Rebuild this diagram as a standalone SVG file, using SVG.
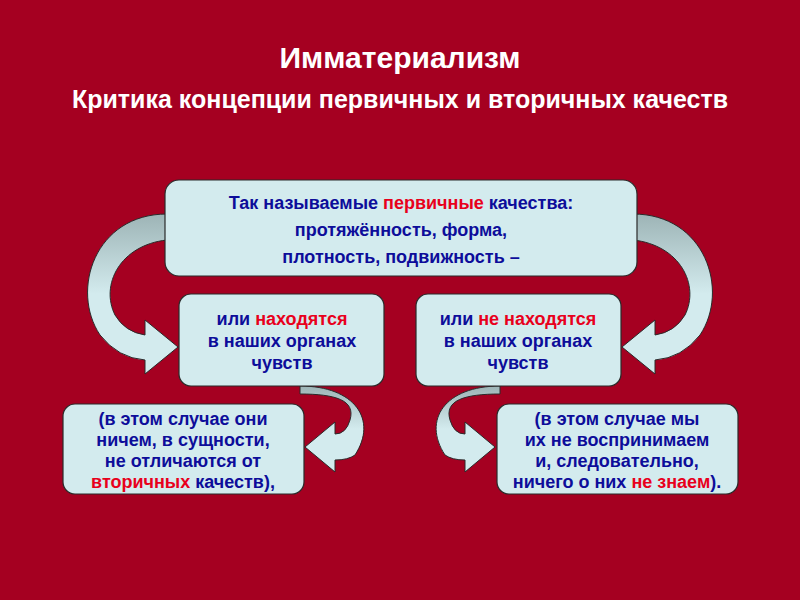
<svg xmlns="http://www.w3.org/2000/svg" width="800" height="600" viewBox="0 0 800 600">
<style>
.bx{fill:#d3ebee;stroke:#2a2a2a;stroke-width:1.2}
.ar{fill:url(#g);stroke:#2a2a2a;stroke-width:1}
.t{font-family:"Liberation Sans",Arial,sans-serif;font-weight:bold;font-size:18px;fill:#0d0d9a;text-anchor:middle}
.r{fill:#e8001c}
.h{font-family:"Liberation Sans",Arial,sans-serif;font-weight:bold;fill:#fff;text-anchor:middle}
</style>
<defs>
<linearGradient id="g" x1="0" y1="0" x2="0" y2="1"><stop offset="0" stop-color="#9db4b6"/><stop offset="0.5" stop-color="#d3ebee"/><stop offset="1" stop-color="#d3ebee"/></linearGradient>
</defs>
<rect width="800" height="600" fill="#a50021"/>
<text class="h" x="400" y="68" font-size="30">Имматериализм</text>
<text class="h" x="400" y="108" font-size="25">Критика концепции первичных и вторичных качеств</text>
<g id="connectors">
<path class="ar" d="M167,214 C95,214 70,290 100,335 Q118,358 145,360 L145,374 L178,347 L145,320 L145,335 Q125,332 115,315 C100,285 120,245 167,240 Z"/>
<path class="ar" d="M633,214 C705,214 730,290 700,335 Q682,358 655,360 L655,374 L622,347 L655,320 L655,335 Q675,332 685,315 C700,285 680,245 633,240 Z"/>
<path class="ar" d="M300,386 C355,386 378,420 355,455 Q348,460 335,460 L335,472 L305,447 L335,422 L335,434 Q346,434 350,420 C356,400 335,394 300,394 Z"/>
<path class="ar" d="M500,386 C445,386 422,420 445,455 Q452,460 465,460 L465,472 L495,447 L465,422 L465,434 Q454,434 450,420 C444,400 465,394 500,394 Z"/>
</g>
<g id="top"><rect class="bx" x="165" y="180" width="472" height="96" rx="14"/>
<text class="t" x="401" y="209">Так называемые <tspan class="r">первичные</tspan> качества:</text>
<text class="t" x="401" y="236">протяжённость, форма,</text>
<text class="t" x="401" y="263">плотность, подвижность –</text></g>
<g id="midL"><rect class="bx" x="179" y="294" width="205" height="92" rx="12"/>
<text class="t" x="282" y="325">или <tspan class="r">находятся</tspan></text>
<text class="t" x="282" y="347">в наших органах</text>
<text class="t" x="282" y="369">чувств</text></g>
<g id="midR"><rect class="bx" x="416" y="294" width="205" height="92" rx="12"/>
<text class="t" x="518" y="325">или <tspan class="r">не находятся</tspan></text>
<text class="t" x="518" y="347">в наших органах</text>
<text class="t" x="518" y="369">чувств</text></g>
<g id="botL"><rect class="bx" x="63" y="404" width="241" height="90" rx="12"/>
<text class="t" x="183" y="425">(в этом случае они</text>
<text class="t" x="183" y="446">ничем, в сущности,</text>
<text class="t" x="183" y="467">не отличаются от</text>
<text class="t" x="183" y="488"><tspan class="r">вторичных</tspan> качеств),</text></g>
<g id="botR"><rect class="bx" x="497" y="404" width="241" height="90" rx="12"/>
<text class="t" x="617" y="425">(в этом случае мы</text>
<text class="t" x="617" y="446">их не воспринимаем</text>
<text class="t" x="617" y="467">и, следовательно,</text>
<text class="t" x="617" y="488">ничего о них <tspan class="r">не знаем</tspan>).</text></g>
</svg>
